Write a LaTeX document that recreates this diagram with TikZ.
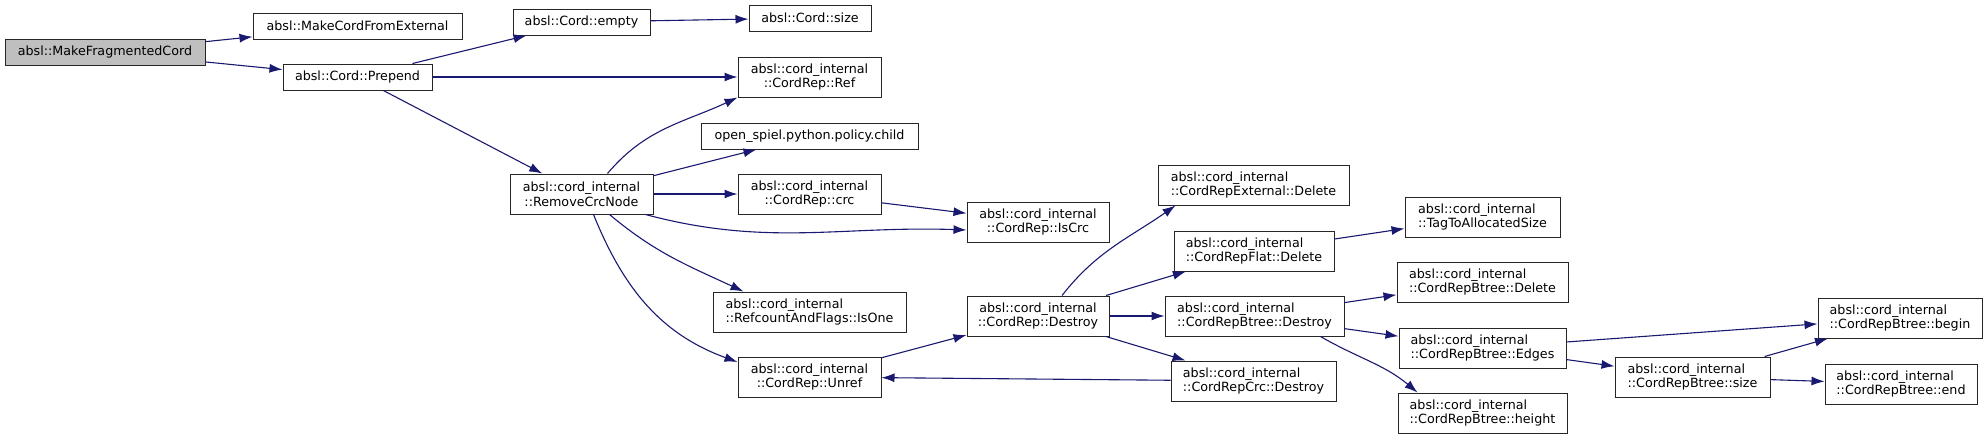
\documentclass[tikz,border=0pt]{standalone}
\usepackage{fontspec}
\setmainfont{DejaVu Sans}
\usetikzlibrary{arrows.meta}
\definecolor{edgeblue}{HTML}{191970}
\definecolor{rootgray}{HTML}{BFBFBF}

\begin{document}
\begin{tikzpicture}[
  x=1pt, y=-1pt,
  box/.style={draw=black!85, line width=1pt, fill=white, inner sep=2pt, minimum height=26pt, font=\fontsize{12.7}{14.6}\selectfont},
  box2/.style={box, minimum height=40pt, align=center},
  boxl/.style={box, minimum height=40pt, align=left},
  arr/.style={-{Latex[length=13pt,width=9pt]}, edgeblue, line width=1.1pt}
]
\useasboundingbox (0,0) rectangle (1988,439);

\node[box, fill=rootgray, minimum width=200pt] (mfc) at (105,52) {absl::MakeFragmentedCord};
\node[box, minimum width=209pt] (mcfe) at (357.5,26) {absl::MakeCordFromExternal};
\node[box, minimum width=149pt] (prepend) at (357.5,77) {absl::Cord::Prepend};
\node[box, minimum width=137pt] (empty) at (581.5,22) {absl::Cord::empty};
\node[box, minimum width=122pt] (csize) at (810,18) {absl::Cord::size};
\node[box2, minimum width=143pt] (ref) at (809.5,77) {absl::cord\_internal\\::CordRep::Ref};
\node[box, minimum width=217pt] (child) at (809.5,136) {open\_spiel.python.policy.child};
\node[box2, minimum width=143pt] (rcn) at (581.5,194) {absl::cord\_internal\\::RemoveCrcNode};
\node[box2, minimum width=143pt] (crc) at (809.5,194) {absl::cord\_internal\\::CordRep::crc};
\node[box2, minimum width=142pt] (iscrc) at (1038,222) {absl::cord\_internal\\::CordRep::IsCrc};
\node[boxl, minimum width=193pt] (isone) at (809.5,312) {absl::cord\_internal\\::RefcountAndFlags::IsOne};
\node[box2, minimum width=143pt] (unref) at (809.5,377) {absl::cord\_internal\\::CordRep::Unref};
\node[box2, minimum width=142pt] (destroy) at (1038,316) {absl::cord\_internal\\::CordRep::Destroy};
\node[boxl, minimum width=191pt] (extdel) at (1253.5,185) {absl::cord\_internal\\::CordRepExternal::Delete};
\node[boxl, minimum width=160pt] (flatdel) at (1254,251) {absl::cord\_internal\\::CordRepFlat::Delete};
\node[boxl, minimum width=155pt] (tag) at (1482.5,217) {absl::cord\_internal\\::TagToAllocatedSize};
\node[boxl, minimum width=179pt] (btdestroy) at (1254.5,316) {absl::cord\_internal\\::CordRepBtree::Destroy};
\node[boxl, minimum width=171pt] (btdel) at (1482.5,282) {absl::cord\_internal\\::CordRepBtree::Delete};
\node[boxl, minimum width=167pt] (edges) at (1482.5,348) {absl::cord\_internal\\::CordRepBtree::Edges};
\node[boxl, minimum width=165pt] (crcdestroy) at (1253.5,381) {absl::cord\_internal\\::CordRepCrc::Destroy};
\node[boxl, minimum width=169pt] (height) at (1482.5,413) {absl::cord\_internal\\::CordRepBtree::height};
\node[boxl, minimum width=155pt] (btsize) at (1692.5,377) {absl::cord\_internal\\::CordRepBtree::size};
\node[boxl, minimum width=164pt] (btbegin) at (1900,318) {absl::cord\_internal\\::CordRepBtree::begin};
\node[boxl, minimum width=152pt] (btend) at (1901,384) {absl::cord\_internal\\::CordRepBtree::end};

\draw[arr] (mfc) -- (mcfe);
\draw[arr] (mfc) -- (prepend);
\draw[arr] (prepend) -- (empty);
\draw[arr] (prepend) -- (ref);
\draw[arr] (prepend) -- (rcn);
\draw[arr] (empty) -- (csize);

\draw[arr] ([xshift=26pt]rcn.north) to[out=50,in=205] (ref.south west);
\draw[arr] (rcn) -- (child);
\draw[arr] (rcn) -- (crc);
\draw[arr] ([xshift=-8pt]rcn.south east) to[out=-15,in=178] ([yshift=-8pt]iscrc.west);
\draw[arr] ([xshift=28pt]rcn.south) to[out=-40,in=155] ([xshift=-66pt]isone.north);
\draw[arr] ([xshift=12pt]rcn.south) to[out=-68,in=160] ([yshift=15pt]unref.west);
\draw[arr] (crc) -- (iscrc);

\draw[arr] (unref) -- (destroy);
\draw[arr] (crcdestroy) -- (unref);
\draw[arr] ([xshift=24pt]destroy.north) to[out=52,in=215] ([xshift=18pt]extdel.south west);
\draw[arr] (destroy) -- (flatdel);
\draw[arr] (destroy) -- (btdestroy);
\draw[arr] (destroy) -- (crcdestroy);
\draw[arr] (flatdel) -- (tag);

\draw[arr] (btdestroy) -- (btdel);
\draw[arr] (btdestroy) -- (edges);
\draw[arr] ([xshift=66pt]btdestroy.south) to[out=-30,in=140] ([xshift=-65pt]height.north);
\draw[arr] (edges) -- (btbegin);
\draw[arr] (edges) -- (btsize);
\draw[arr] (btsize) -- (btbegin);
\draw[arr] (btsize) -- (btend);

\end{tikzpicture}
\end{document}
